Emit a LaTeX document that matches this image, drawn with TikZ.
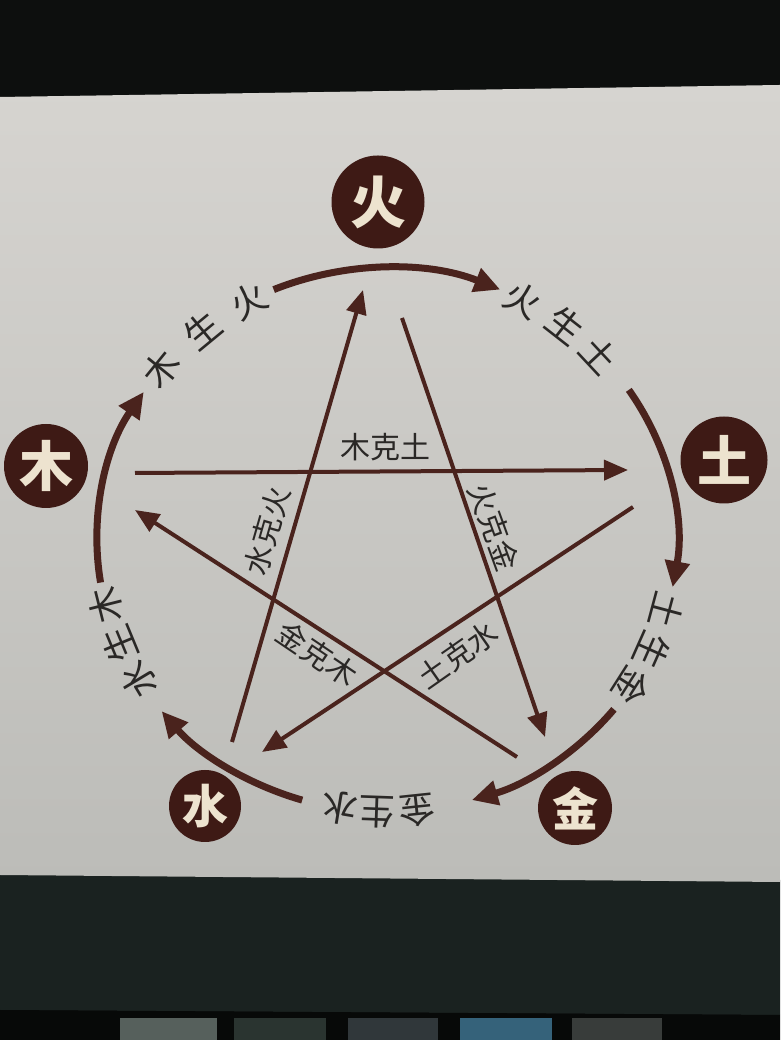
\documentclass[tikz,border=0pt]{standalone}
\usepackage{fontspec}
\newfontfamily\cjk{Noto Sans CJK SC}
\usetikzlibrary{arrows.meta}
\definecolor{topdark}{HTML}{0D0F0E}
\definecolor{band}{HTML}{1A2220}
\definecolor{strip}{HTML}{070908}
\definecolor{brownbadge}{HTML}{3E1A15}
\definecolor{arcc}{HTML}{4A231D}
\definecolor{ink}{HTML}{2A2826}
\definecolor{badgetext}{HTML}{EDE3CF}
\definecolor{panelTop}{HTML}{D6D4D0}
\definecolor{panelBot}{HTML}{BCBCB8}
\definecolor{iconA}{HTML}{56605C}
\definecolor{iconB}{HTML}{2A3430}
\definecolor{iconC}{HTML}{30373A}
\definecolor{iconD}{HTML}{35627A}
\definecolor{iconE}{HTML}{383C3A}
\begin{document}
\begin{tikzpicture}[x=1pt,y=1pt,
  badge/.style={circle,fill=brownbadge,inner sep=0pt,text=badgetext},
  genarc/.style={draw=arcc,line width=7pt,-{Triangle[length=26pt,width=24pt]}},
  kearrow/.style={draw=arcc,line width=4pt,-{Triangle[length=24pt,width=20pt]}},
  genlabel/.style={text=ink,font=\cjk\fontsize{36}{36}\selectfont,inner sep=0pt},
  kelabel/.style={text=ink,font=\cjk\fontsize{30}{30}\selectfont,inner sep=0pt}]
\useasboundingbox (0,0) rectangle (780,1040);
% photo background
\fill[topdark] (0,0) rectangle (780,1040);
\fill[band] (0,30) -- (780,25) -- (780,160) -- (0,167) -- cycle;
\fill[strip] (0,0) -- (780,0) -- (780,25) -- (0,30) -- cycle;
\fill[iconA] (120,0) rectangle (217,22);
\fill[iconB] (234,0) rectangle (326,22);
\fill[iconC] (348,0) rectangle (438,22);
\fill[iconD] (460,0) rectangle (552,22);
\fill[iconE] (572,0) rectangle (662,22);
% panel
\shade[top color=panelTop,bottom color=panelBot] (0,943) -- (780,955) -- (780,158) -- (0,165) -- cycle;

% generation cycle arcs
\coordinate (g1) at ({387+290*cos(113)},{500+272*sin(113)});
\coordinate (g2) at ({387+290*cos(33.5)},{500+272*sin(33.5)});
\coordinate (g3) at ({387+290*cos(-38.5)},{500+272*sin(-38.5)});
\coordinate (g4) at ({387+290*cos(-107)},{500+272*sin(-107)});
\coordinate (g5) at ({387+290*cos(189)},{500+272*sin(189)});
\draw[genarc] (g1) arc[start angle=113,end angle=67,x radius=290,y radius=272];
\draw[genarc] (g2) arc[start angle=33.5,end angle=-10,x radius=290,y radius=272];
\draw[genarc] (g3) arc[start angle=-38.5,end angle=-73,x radius=290,y radius=272];
\draw[genarc] (g4) arc[start angle=-107,end angle=-141,x radius=290,y radius=272];
\draw[genarc] (g5) arc[start angle=189,end angle=147,x radius=290,y radius=272];

% generation labels
\foreach \t/\c/\n in {141/木/a1,129.5/生/a2,118.5/火/a3,
                      62/火/b1,52/生/b2,43/土/b3,
                      -15/土/c1,-24/生/c2,-32.5/金/c3,
                      -84/金/d1,-92/生/d2,-99.5/水/d3,
                      -149/水/e1,-157.5/生/e2,-166/木/e3}
  \node[genlabel,rotate=\t-90] (\n) at ({387+290*cos(\t)},{500+272*sin(\t)}) {\c};

% restraint (ke) star
\coordinate (k1s) at (135,567); \coordinate (k1e) at (628,570);
\coordinate (k2s) at (633,533); \coordinate (k2e) at (262,288);
\coordinate (k3s) at (232,298); \coordinate (k3e) at (363,750);
\coordinate (k4s) at (402,722); \coordinate (k4e) at (545,303);
\coordinate (k5s) at (517,283); \coordinate (k5e) at (135,530);
\draw[kearrow] (k1s) -- (k1e);
\draw[kearrow] (k2s) -- (k2e);
\draw[kearrow] (k3s) -- (k3e);
\draw[kearrow] (k4s) -- (k4e);
\draw[kearrow] (k5s) -- (k5e);

\node[kelabel] (kl1) at (385,593) {木克土};
\node[kelabel,rotate=74] (kl2) at (267,509) {水克火};
\node[kelabel,rotate=-70] (kl3) at (494,513) {火克金};
\node[kelabel,rotate=-34] (kl4) at (317,386) {金克木};
\node[kelabel,rotate=35] (kl5) at (458,385) {土克水};

% element badges
\node[badge,minimum size=93pt,font=\cjk\bfseries\fontsize{56}{56}\selectfont] (huo) at (378,838) {火};
\node[badge,minimum size=87pt,font=\cjk\bfseries\fontsize{54}{54}\selectfont] (tu) at (724,580) {土};
\node[badge,minimum size=84pt,font=\cjk\bfseries\fontsize{54}{54}\selectfont] (mu) at (46,574) {木};
\node[badge,minimum size=74pt,font=\cjk\bfseries\fontsize{46}{46}\selectfont] (jin) at (575,232) {金};
\node[badge,minimum size=72pt,font=\cjk\bfseries\fontsize{46}{46}\selectfont] (shui) at (205,234) {水};
\end{tikzpicture}
\end{document}
